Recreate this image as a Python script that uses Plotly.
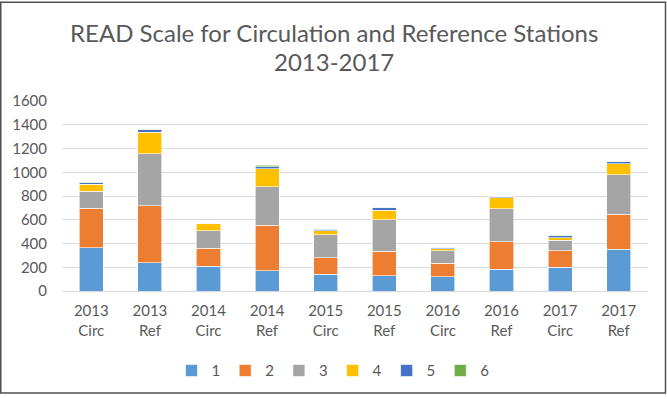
import plotly.graph_objects as go

categories = ["2013<br>Circ", "2013<br>Ref", "2014<br>Circ", "2014<br>Ref", "2015<br>Circ",
              "2015<br>Ref", "2016<br>Circ", "2016<br>Ref", "2017<br>Circ", "2017<br>Ref"]
s1 = [365, 240, 210, 170, 140, 130, 118, 185, 200, 350]
s2 = [330, 480, 150, 385, 140, 205, 117, 229, 137, 297]
s3 = [145, 435, 148, 325, 193, 263, 102, 279, 91, 331]
s4 = [60, 180, 58, 150, 35, 82, 17, 92, 22, 94]
s5 = [12, 25, 3, 18, 12, 25, 13, 13, 17, 17]
s6 = [3, 3, 0, 12, 3, 0, 3, 0, 3, 0]
series_names = ["1", "2", "3", "4", "5", "6"]
series = [s1, s2, s3, s4, s5, s6]
colors = ["#5B9BD5", "#ED7D31", "#A5A5A5", "#FFC000", "#4472C4", "#70AD47"]
y_ticks = [0, 200, 400, 600, 800, 1000, 1200, 1400, 1600]

W, H = 667, 399
L, R, T, B = 62, 19, 101, 105
pw, ph = W - L - R, H - T - B

fig = go.Figure()
for name, vals, c in zip(series_names, series, colors):
    fig.add_trace(go.Bar(x=categories, y=vals, name=name,
                         marker=dict(color=c, line=dict(color="white", width=0.6))))

font = "Lato, 'Open Sans', sans-serif"
txt = "#595959"

def px_x(p):
    return (p - L) / pw

def px_y(p):
    return (H - B - p) / ph

fig.update_layout(
    width=W, height=H,
    margin=dict(l=L, r=R, t=T, b=B, pad=0),
    barmode="stack", bargap=0.59,
    plot_bgcolor="white", paper_bgcolor="white",
    font=dict(family=font, color=txt, size=15),
    showlegend=True,
    legend=dict(orientation="h", x=px_x(333), xanchor="center", y=px_y(375), yanchor="middle",
                font=dict(size=15, color=txt), traceorder="normal", itemwidth=30),
    xaxis=dict(showgrid=False, showline=False, ticks="", tickfont=dict(size=15, color=txt),
               ticklabelstandoff=9, fixedrange=True),
    yaxis=dict(range=[0, 1600], tickvals=y_ticks, showgrid=True, gridcolor="#d9d9d9",
               gridwidth=1, zeroline=True, zerolinecolor="#d9d9d9", zerolinewidth=1,
               showline=False, ticks="", tickfont=dict(size=15, color=txt), ticklabelstandoff=14),
    annotations=[
        dict(text="READ Scale for Circulation and Reference Stations", x=px_x(333.5), xref="paper",
             xanchor="center", y=px_y(31), yref="paper", yanchor="middle", showarrow=False,
             font=dict(size=24, color=txt, family=font)),
        dict(text="2013-2017", x=px_x(333.5), xref="paper",
             xanchor="center", y=px_y(61), yref="paper", yanchor="middle", showarrow=False,
             font=dict(size=24, color=txt, family=font)),
    ],
    shapes=[dict(type="rect", xref="paper", yref="paper",
                 x0=px_x(0.75), x1=px_x(665.5), y0=px_y(397.5), y1=px_y(0.75),
                 line=dict(color="#505050", width=1.5), fillcolor="rgba(0,0,0,0)", layer="above")],
)

fig.write_html("out.html", config={"displayModeBar": False},
               post_script="document.body.style.margin='0';document.documentElement.style.overflow='hidden';document.body.style.overflow='hidden';")
